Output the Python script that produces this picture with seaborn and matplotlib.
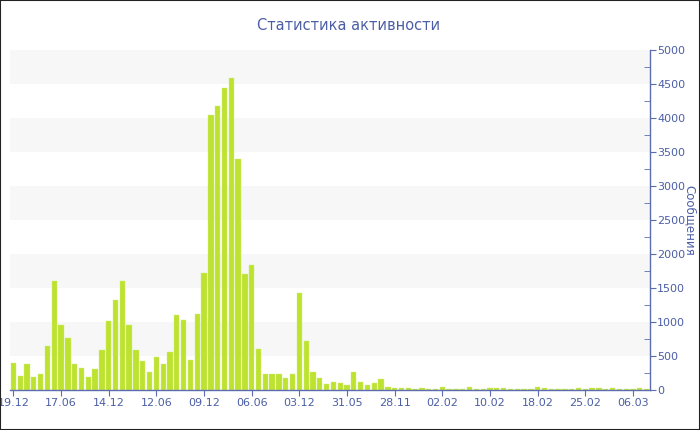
import matplotlib
matplotlib.use("Agg")
import matplotlib.pyplot as plt
from matplotlib.patches import Rectangle
from matplotlib.ticker import MultipleLocator
import seaborn as sns
import pandas as pd

title = "Статистика активности"
ylabel = "Сообщения"
values = [390, 200, 380, 190, 240, 640, 1600, 950, 770, 380,
          320, 190, 310, 590, 1010, 1330, 1600, 960, 590, 430,
          270, 480, 380, 560, 1100, 1030, 440, 1120, 1720, 4040,
          4170, 4440, 4590, 3400, 1700, 1840, 600, 240, 240, 230,
          170, 240, 1430, 720, 260, 170, 90, 120, 100, 80,
          260, 120, 70, 100, 160, 50, 30, 30, 25, 20,
          30, 15, 15, 50, 15, 15, 15, 50, 20, 15,
          30, 30, 25, 15, 20, 15, 15, 50, 30, 15,
          15, 15, 15, 30, 15, 30, 30, 15, 30, 15,
          15, 15, 30, 15]
tick_labels = ["19.12", "17.06", "14.12", "12.06", "09.12", "06.06", "03.12",
               "31.05", "28.11", "02.02", "10.02", "18.02", "25.02", "06.03"]
tick_step = 7

sns.set_style("white")
plt.rcParams['font.family'] = ['DejaVu Sans']

blue = '#4b5ea6'
axis_blue = '#5b6db0'
bar_color = '#bde22f'

df = pd.DataFrame({"idx": list(range(len(values))), "v": values})

fig = plt.figure(figsize=(7, 4.3), dpi=100)
ax = fig.add_axes([10/700, 1-390/430, 640/700, 340/430])

for lo in range(500, 5000, 1000):
    ax.axhspan(lo, lo + 500, color='#f7f7f7', zorder=0, lw=0)

sns.barplot(data=df, x="idx", y="v", color=bar_color, saturation=1,
            width=0.78, ax=ax, zorder=2, edgecolor='#d4ee7a', linewidth=0.3)

ax.set_xlim(-0.5, len(values) - 0.5)
ax.set_ylim(0, 5000)
ax.set_xticks(list(range(0, len(values), tick_step))[:len(tick_labels)])
ax.set_xticklabels(tick_labels)
ax.set_xlabel("")

ax.yaxis.tick_right()
ax.yaxis.set_label_position("right")
ax.yaxis.set_major_locator(MultipleLocator(500))
ax.yaxis.set_minor_locator(MultipleLocator(250))
ax.set_ylabel(ylabel, color=blue, fontsize=8.5, rotation=270, labelpad=8)

for s in ['top', 'left']:
    ax.spines[s].set_visible(False)
for s in ['bottom', 'right']:
    ax.spines[s].set_color(axis_blue)
    ax.spines[s].set_linewidth(1)

ax.tick_params(axis='x', direction='out', length=4, color=axis_blue,
               labelcolor=blue, labelsize=8, pad=2, bottom=True)
ax.tick_params(axis='y', which='major', direction='out', length=4, color=axis_blue,
               labelcolor=blue, labelsize=8, pad=1, right=True, left=False)
ax.tick_params(axis='y', which='minor', direction='in', length=4, color=axis_blue,
               right=True, left=False)

fig.text(349/700, 1-25/430, title, ha='center', va='center', color=blue, fontsize=10.5)

fig.patches.append(Rectangle((0, 0), 1, 1, transform=fig.transFigure, fill=False,
                             edgecolor='#222222', linewidth=1.5, zorder=10))

fig.savefig("out.png", dpi=100)
